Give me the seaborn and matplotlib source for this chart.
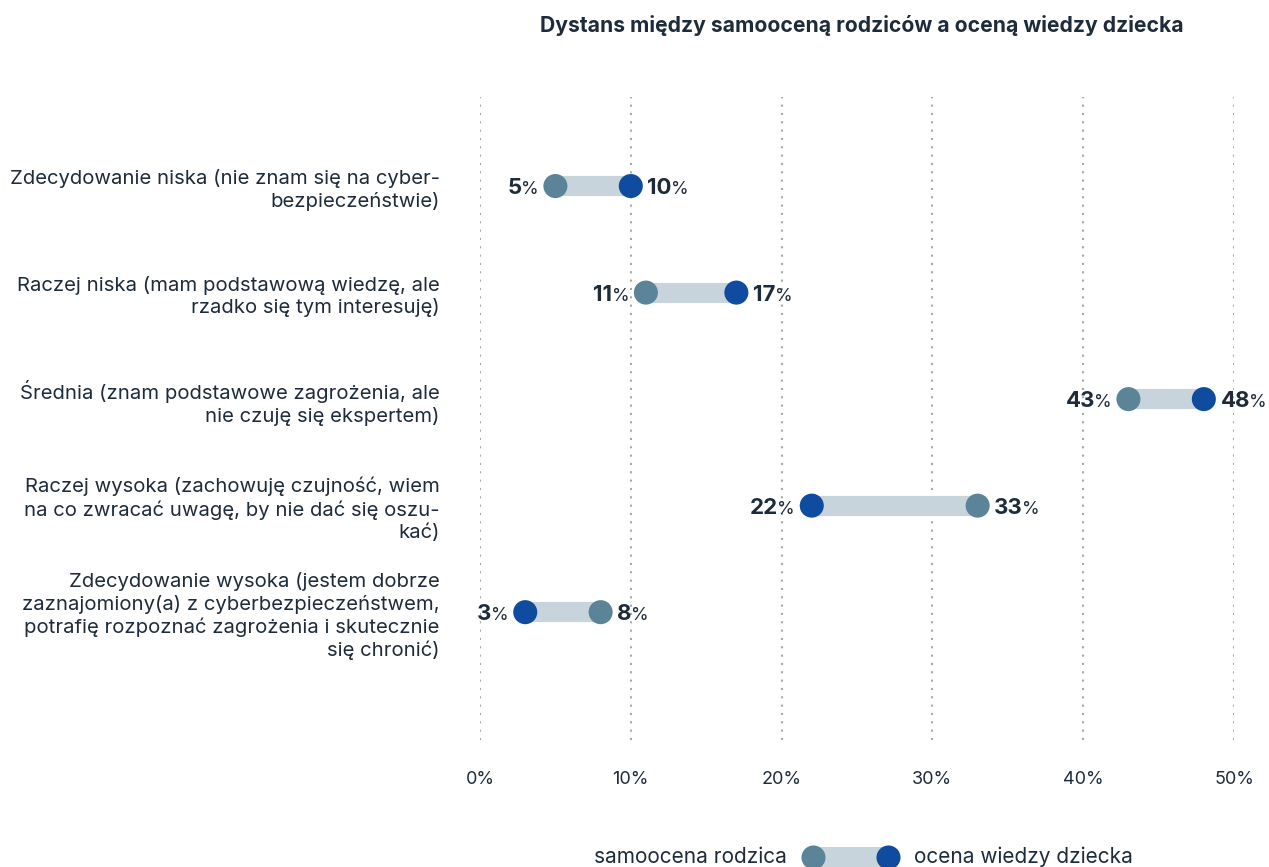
import matplotlib
matplotlib.use("Agg")
import matplotlib.pyplot as plt
import seaborn as sns
import pandas as pd

# Survey answers: self-assessment of parents vs. assessment of child's knowledge
categories = [
    "Zdecydowanie niska (nie znam się na cyber-\nbezpieczeństwie)",
    "Raczej niska (mam podstawową wiedzę, ale\nrzadko się tym interesuję)",
    "Średnia (znam podstawowe zagrożenia, ale\nnie czuję się ekspertem)",
    "Raczej wysoka (zachowuję czujność, wiem\nna co zwracać uwagę, by nie dać się oszu-\nkać)",
    "Zdecydowanie wysoka (jestem dobrze\nzaznajomiony(a) z cyberbezpieczeństwem,\npotrafię rozpoznać zagrożenia i skutecznie\nsię chronić)",
]
parent_self = [5, 11, 43, 33, 8]
child_knowledge = [10, 17, 48, 22, 3]
x_ticks = [0, 10, 20, 30, 40, 50]
x_tick_labels = ["0%", "10%", "20%", "30%", "40%", "50%"]

series_names = ["samoocena rodzica", "ocena wiedzy dziecka"]
title = "Dystans między samooceną rodziców a oceną wiedzy dziecka"

PARENT_C = "#5b8498"
CHILD_C = "#0f4c9f"
BAR_C = "#c8d4dc"
TEXT_C = "#1e2b3a"
FONT = ["Inter", "DejaVu Sans"]
NARROW = ["Liberation Sans Narrow", "Inter", "DejaVu Sans"]

NUM_SIZE = 16
PCT_SIZE = 13
LABEL_SIZE = 14.6

sns.set_theme(style="white")
plt.rcParams["font.family"] = FONT
plt.rcParams["text.color"] = TEXT_C

df = pd.DataFrame({
    "kategoria": categories * 2,
    "poz": list(range(len(categories))) * 2,
    "wartosc": parent_self + child_knowledge,
    "seria": [series_names[0]] * len(categories) + [series_names[1]] * len(categories),
})

fig = plt.figure(figsize=(12.69, 8.67), dpi=100)
ax = fig.add_axes([480 / 1269, 1 - 740 / 867, (1234 - 480) / 1269, (740 - 97) / 867])

# vertical dotted grid
for t in x_ticks:
    ax.axvline(t, color="#a8a8a8", lw=1.5, ls=(0, (1, 3)), zorder=0)

# connecting bars
lo = [min(a, b) for a, b in zip(parent_self, child_knowledge)]
hi = [max(a, b) for a, b in zip(parent_self, child_knowledge)]
ax.hlines(range(len(categories)), lo, hi, color=BAR_C, lw=14.5, zorder=1)

sns.scatterplot(data=df, x="wartosc", y="poz", hue="seria",
                palette={series_names[0]: PARENT_C, series_names[1]: CHILD_C},
                s=300, linewidth=0, legend=False, ax=ax, zorder=3)

ax.set_xlim(0, 50)
ax.set_ylim(5.2, -0.836)
ax.set_xticks(x_ticks)
ax.set_xticklabels(x_tick_labels, family=NARROW, fontsize=13, color=TEXT_C)
ax.set_yticks(range(len(categories)))
ax.set_yticklabels(categories, fontsize=LABEL_SIZE, color=TEXT_C, linespacing=1.25,
                   ha="right", family=FONT)
ax.tick_params(axis="y", length=0, pad=29)
ax.tick_params(axis="x", length=0, pad=22)
ax.set_xlabel("")
ax.set_ylabel("")
for s in ax.spines.values():
    s.set_visible(False)

BASE = -5.8  # baseline shift (points) so digits sit centred on the row


def value_label(x, y, side):
    num = f"{x}"
    if side == "right":
        t = ax.annotate(num, xy=(x, y), xytext=(12, BASE), textcoords="offset points",
                        ha="left", va="baseline", fontsize=NUM_SIZE, fontweight="bold",
                        color=TEXT_C, zorder=4)
        ax.annotate("%", xy=(1, y), xycoords=(t, "data"), xytext=(-0.5, BASE),
                    textcoords="offset points", ha="left", va="baseline",
                    fontsize=PCT_SIZE, color=TEXT_C, zorder=4)
    else:
        p = ax.annotate("%", xy=(x, y), xytext=(-12, BASE), textcoords="offset points",
                        ha="right", va="baseline", fontsize=PCT_SIZE, color=TEXT_C, zorder=4)
        ax.annotate(num, xy=(0, y), xycoords=(p, "data"), xytext=(0.5, BASE),
                    textcoords="offset points", ha="right", va="baseline",
                    fontsize=NUM_SIZE, fontweight="bold", color=TEXT_C, zorder=4)


for i in range(len(categories)):
    value_label(lo[i], i, "left")
    value_label(hi[i], i, "right")

fig.text(862 / 1269, 1 - 25 / 867, title, ha="center", va="center",
         fontsize=15.2, fontweight="bold", color=TEXT_C)

# legend built as a tiny dumbbell
lax = fig.add_axes([813 / 1269, 0.0, 75 / 1269, 20 / 867])
lax.set_xlim(0, 1)
lax.set_ylim(-1, 1)
lax.axis("off")
lax.hlines(0, 0, 1, color=BAR_C, lw=14.5, zorder=1)
lax.scatter([0], [0], s=300, color=PARENT_C, linewidth=0, zorder=3, clip_on=False)
lax.scatter([1], [0], s=300, color=CHILD_C, linewidth=0, zorder=3, clip_on=False)
lax.annotate(series_names[0], xy=(0, 0), xytext=(-19, 0), textcoords="offset points",
             ha="right", va="center", fontsize=15, color=TEXT_C, annotation_clip=False)
lax.annotate(series_names[1], xy=(1, 0), xytext=(19, 0), textcoords="offset points",
             ha="left", va="center", fontsize=15, color=TEXT_C, annotation_clip=False)

fig.savefig("out.png", dpi=100)
